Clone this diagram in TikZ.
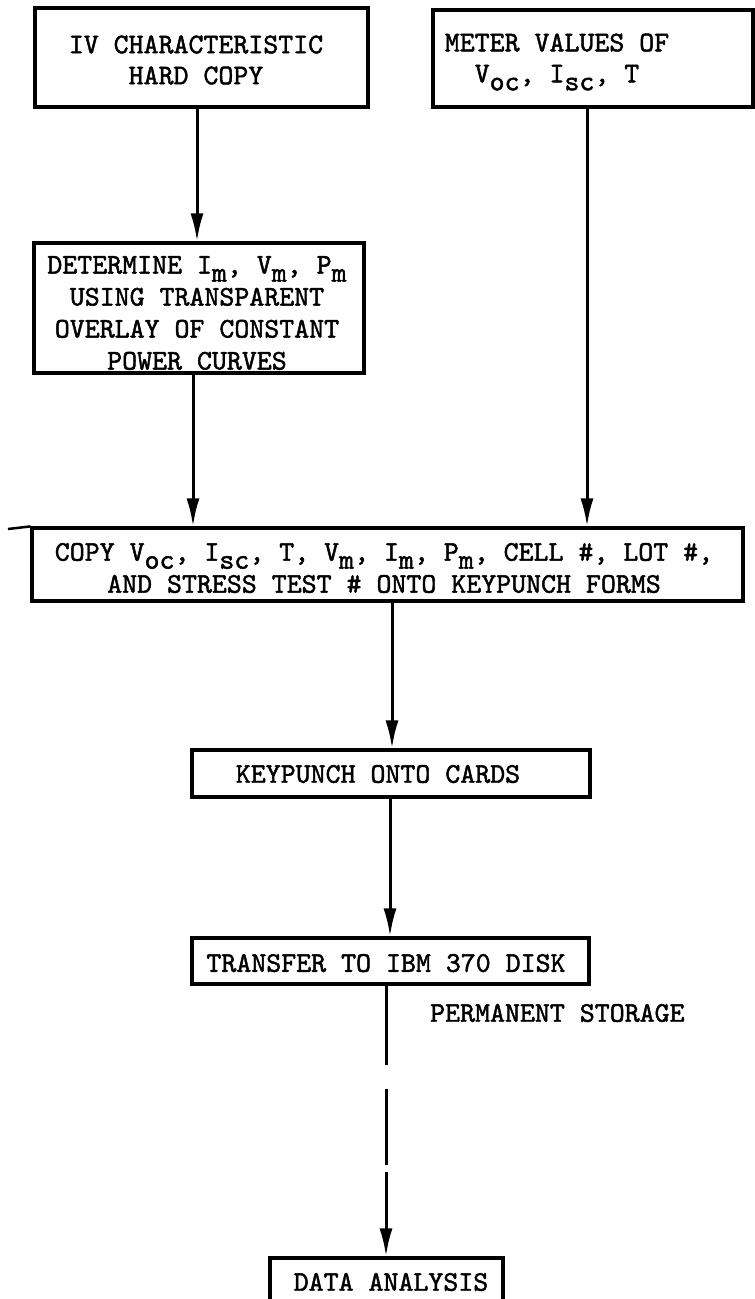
\documentclass[tikz,border=0pt]{standalone}
\usepackage{fontspec}
\usetikzlibrary{arrows.meta}
\newfontfamily\tw{lmmono10-regular.otf}[FakeBold=1.6]
\newcommand\sbs[1]{\raisebox{-0.28em}{#1}}
\begin{document}
\begin{tikzpicture}[x=1pt,y=-1pt,
  box/.style={draw=black,line width=3.2pt,rectangle,inner sep=0pt},
  txt/.style={font=\tw\fontsize{28.5}{31}\selectfont,align=center,inner sep=0pt},
  arr/.style={line width=3pt,-{Latex[length=28pt,width=13pt]}},
  plain/.style={line width=2.5pt}]
\useasboundingbox[fill=white] (0,0) rectangle (755,1299);
% boxes
\node[box,minimum width=333pt,minimum height=99pt] (b1) at (201.5,57.5) {};
\node[box,minimum width=320pt,minimum height=97pt] (b2) at (593,58.5) {};
\node[box,minimum width=330pt,minimum height=130pt] (b3) at (199,308) {};
\node[box,minimum width=711pt,minimum height=73pt] (b4) at (387.5,564.5) {};
\node[box,minimum width=398pt,minimum height=47pt] (b5) at (391,773.5) {};
\node[box,minimum width=397pt,minimum height=46pt] (b6) at (390.5,961) {};
\node[box,minimum width=233pt,minimum height=47pt] (b7) at (386.5,1281.5) {};
% texts
\node[txt] (t1) at (196,60) {IV CHARACTERISTIC\\HARD COPY};
\node[txt] (t2) at (557,62) {METER VALUES OF\\V\sbs{oc}, I\sbs{sc}, T};
\node[txt,font=\tw\fontsize{28.5}{32}\selectfont] (t3) at (197,313) {DETERMINE I\sbs{m}, V\sbs{m}, P\sbs{m}\\USING TRANSPARENT\\OVERLAY OF CONSTANT\\POWER CURVES};
\node[txt,font=\tw\fontsize{28.5}{32}\selectfont] (t4) at (384,568) {COPY V\sbs{oc}, I\sbs{sc}, T, V\sbs{m}, I\sbs{m}, P\sbs{m}, CELL \#, LOT \#,\\AND STRESS TEST \# ONTO KEYPUNCH FORMS};
\node[txt] (t5) at (378,774) {KEYPUNCH ONTO CARDS};
\node[txt] (t6) at (386,963) {TRANSFER TO IBM 370 DISK};
\node[txt] (t7) at (391,1282) {DATA ANALYSIS};
\node[txt,anchor=west] (t8) at (430,1013) {PERMANENT STORAGE};
% connectors
\draw[arr] ([xshift=-4.5pt]b1.south) -- ([xshift=-4.5pt]b1.south |- b3.north);
\draw[arr] ([xshift=-6pt]b2.south) -- ([xshift=-6pt]b2.south |- b4.north);
\draw[arr] ([xshift=-6pt]b3.south) -- ([xshift=-6pt]b3.south |- b4.north);
\draw[arr] ([xshift=4.5pt]b4.south) -- ([xshift=4.5pt]b4.south |- b5.north);
\draw[arr] ([xshift=-1pt]b5.south) -- ([xshift=-1pt]b5.south |- b6.north);
\draw[arr,dash pattern=on 79pt off 24pt on 76pt off 7pt on 400pt off 0pt] ([xshift=-4.5pt]b6.south) -- ([xshift=-4.5pt]b6.south |- b7.north);
\coordinate (stub) at (8,529);
\draw[plain] (stub) -- (b4.north west);
\end{tikzpicture}
\end{document}
